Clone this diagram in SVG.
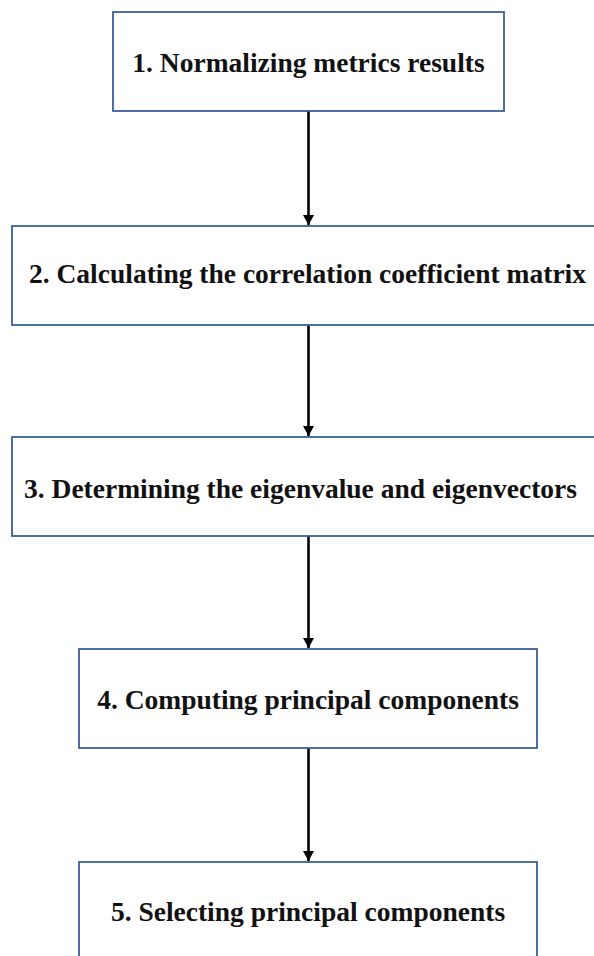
<svg xmlns="http://www.w3.org/2000/svg" width="594" height="956" viewBox="0 0 594 956">
  <style>
    .box { fill: #ffffff; stroke: #3a5f9c; stroke-width: 1.8; }
    .lbl { font-family: "Liberation Serif", "Times New Roman", serif; font-weight: bold; font-size: 27.5px; fill: #111111; text-anchor: middle; }
    .edge { stroke: #000000; stroke-width: 2.6; fill: none; }
  </style>
  <defs>
    <marker id="arrow" markerWidth="12" markerHeight="12" refX="10" refY="6" orient="auto" markerUnits="userSpaceOnUse">
      <path d="M0,0.5 L10,6 L0,11.5 Z" fill="#000000"/>
    </marker>
  </defs>
  <rect width="594" height="956" fill="#ffffff"/>

  <!-- vertical flow arrows between the steps -->
  <g id="connectors">
    <line class="edge" x1="308.5" y1="111" x2="308.5" y2="225" marker-end="url(#arrow)"/>
    <line class="edge" x1="308.5" y1="325" x2="308.5" y2="436" marker-end="url(#arrow)"/>
    <line class="edge" x1="308.5" y1="536" x2="308.5" y2="648" marker-end="url(#arrow)"/>
    <line class="edge" x1="308.5" y1="748" x2="308.5" y2="861" marker-end="url(#arrow)"/>
  </g>

  <g id="step1">
    <rect class="box" x="113" y="12" width="391" height="99"/>
    <text class="lbl" x="308.5" y="72">1. Normalizing metrics results</text>
  </g>
  <g id="step2">
    <rect class="box" x="12" y="226" width="592" height="99"/>
    <text class="lbl" x="307.5" y="283">2. Calculating the correlation coefficient matrix</text>
  </g>
  <g id="step3">
    <rect class="box" x="12" y="437" width="592" height="99"/>
    <text class="lbl" x="300.5" y="498">3. Determining the eigenvalue and eigenvectors</text>
  </g>
  <g id="step4">
    <rect class="box" x="79" y="649" width="458" height="99"/>
    <text class="lbl" x="308" y="709">4. Computing principal components</text>
  </g>
  <g id="step5">
    <rect class="box" x="79" y="862" width="458" height="120"/>
    <text class="lbl" x="308" y="921">5. Selecting principal components</text>
  </g>
</svg>
